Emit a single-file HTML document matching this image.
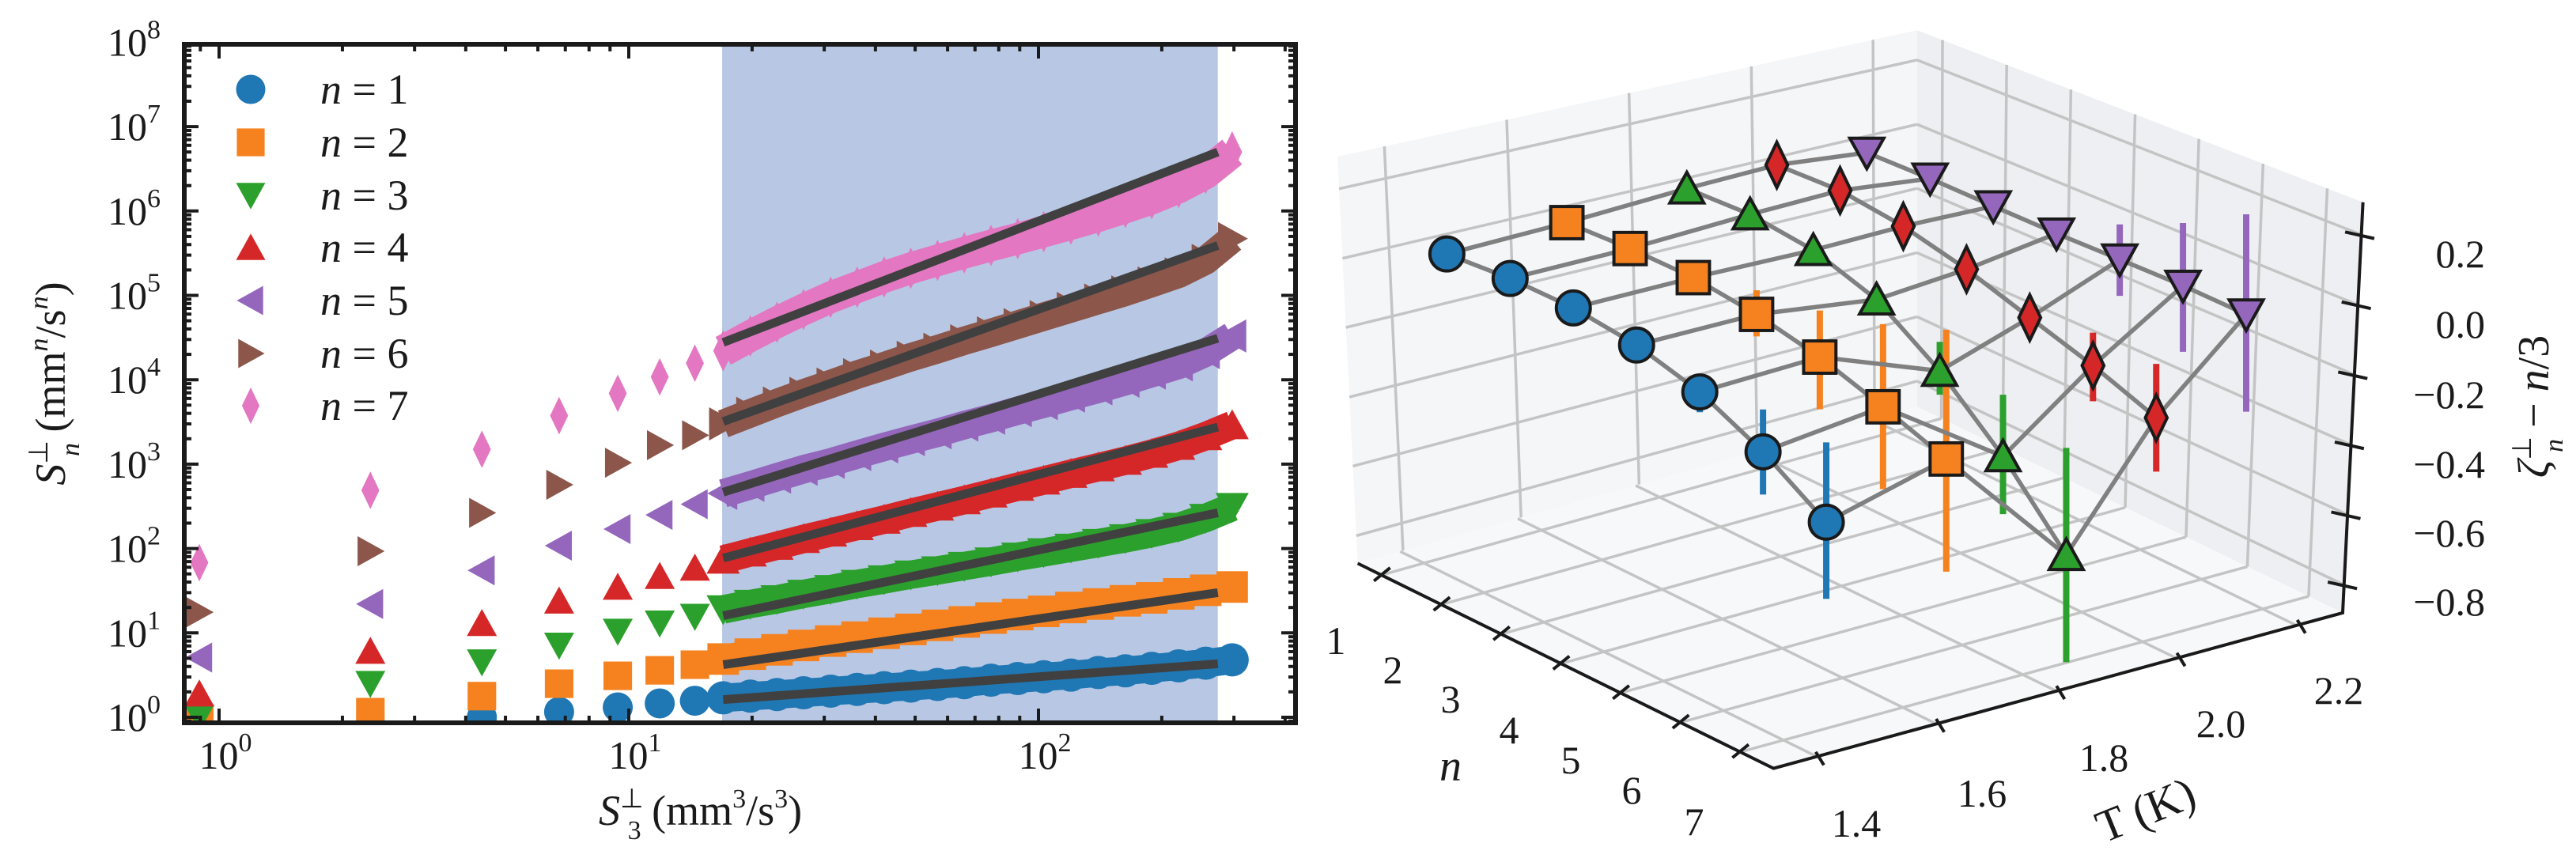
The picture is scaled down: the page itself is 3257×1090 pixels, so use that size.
<!DOCTYPE html>
<html><head><meta charset="utf-8"><style>
html,body{margin:0;padding:0;background:#fff;}
svg{display:block;font-family:"Liberation Serif",serif;}
</style></head><body>
<svg id="fig" xmlns="http://www.w3.org/2000/svg" width="3257" height="1090" viewBox="0 0 3257 1090">
<defs><clipPath id="clipL"><rect x="230" y="53" width="1411" height="864"/></clipPath></defs>
<g id="left"></g>
<g id="right"></g>
</svg>
<script>
// ---------- LEFT PANEL DATA ----------
const xVals = [0.895,2.34,4.38,6.76,9.4,11.9,14.5,17,19.8,23.0,26.7,31.1,36.1,42.0,48.8,56.7,65.9,76.6,89.0,103,120,140,163,189,220,256,297];
const s1 = [0.6,0.82,1.0,1.16,1.31,1.46,1.57,1.70,1.78,1.86,1.95,2.04,2.14,2.24,2.34,2.45,2.57,2.75,2.88,3.02,3.16,3.39,3.55,3.80,4.07,4.37,4.79];
const s2 = [0.95,1.15,1.78,2.5,3.1,3.6,4.2,4.9,5.6,6.3,7.1,8.0,8.9,9.9,11,12.3,13.5,15,16.5,18,20,22,24,26,29,32,35];
const s3 = [1.0,2.5,4.5,7.1,10.4,13,15.6,19,22,25,29,33,38,43,49,55,62,70,80,90,102,116,132,152,180,230,310];
const s4 = [1.9,6.1,13,24,35,47,59,74,90,108,130,155,185,220,265,315,375,450,540,640,770,920,1100,1330,1650,2150,2900];
const s5 = [5.1,22,55,108,170,250,335,450,560,700,870,1050,1300,1600,1950,2350,2900,3500,4300,5200,6400,7800,9600,12000,15000,21000,33000];
const s6 = [17.6,93,265,570,1040,1680,2200,3000,4000,5300,6900,8900,11500,14500,18500,23000,29000,36000,45000,56000,70000,88000,110000,140000,180000,260000,470000];
const s7 = [68,490,1500,3750,6900,10800,15700,22000,33000,48000,68000,95000,125000,165000,210000,260000,320000,390000,470000,570000,700000,870000,1100000,1400000,1900000,2800000,5000000];
const fitRange = [17, 274];
const fitStart = [1.62,4.2,16,77,465,3200,27700];
const fitEnd = [4.3,30,265,2750,31000,390000,5000000];
const shadeRange = [16.9, 274];
const yTickExp = [0,1,2,3,4,5,6,7,8];
const xTickExp = [0,1,2];
const legendLabels = ["1","2","3","4","5","6","7"];
const denseStart = 7;

// ---------- RIGHT PANEL DATA ----------
const temps = [1.45,1.65,1.85,2.0,2.15];
const nVals = [1,2,3,4,5,6,7];
const zBlue = [0,0.019,0.024,0.007,-0.038,-0.12,-0.232];
const zOrange = [-0.004,0.011,0.017,0.001,-0.032,-0.085,-0.145];
const zGreen = [0,0.015,0.002,-0.05,-0.165,-0.32,-0.513];
const zRed = [-0.003,0.013,0,-0.034,-0.083,-0.131,-0.191];
const zPurple = [-0.038,-0.023,-0.013,-0.002,0.013,0.027,0.034];
const errLoBlue = [null,null,null,null,-0.096,-0.242,-0.451];
const errHiBlue = [null,null,null,null,0.014,0.001,-0.004];
const errLoOrange = [null,null,null,-0.062,-0.181,-0.32,-0.467];
const errHiOrange = [null,null,null,0.07,0.101,0.151,0.224];
const errLoGreen = [null,null,null,null,-0.233,-0.485,-0.819];
const errHiGreen = [null,null,null,null,-0.082,-0.144,-0.207];
const errLoRed = [null,null,null,null,null,-0.233,-0.345];
const errHiRed = [null,null,null,null,null,-0.037,-0.037];
const errLoPurple = [null,null,null,null,-0.091,-0.162,-0.244];
const errHiPurple = [null,null,null,null,0.113,0.206,0.32];
const zTicks = [0.2,0.0,-0.2,-0.4,-0.6,-0.8];
const tTicks = [1.4,1.6,1.8,2.0,2.2];

const NS = "http://www.w3.org/2000/svg";
function mk(tag, attrs, parent){const e=document.createElementNS(NS,tag);for(const k in attrs)e.setAttribute(k,attrs[k]);parent.appendChild(e);return e;}
const colors = ["#1f77b4","#f5821f","#2ca02c","#d62728","#9467bd","#8c564b","#e377c2"];

// ======== LEFT PANEL ========
const L = document.getElementById('left');
const X = v => 277 + 518*Math.log10(v);
const Y = v => 907 - 106.7*Math.log10(v);

const shade = mk('rect',{x:X(shadeRange[0]),y:53,width:X(shadeRange[1])-X(shadeRange[0]),height:864,fill:'#b8c8e4'},L);



function marker(kind, cx, cy, s, fill, parent, stroke){
  let e; const h=s/2;
  const st = stroke ? {stroke:'#1a1a1a','stroke-width':4,'stroke-linejoin':'miter'} : {};
  if(kind==='circle') e=mk('circle',Object.assign({cx:cx,cy:cy,r:h,fill:fill},st),parent);
  else if(kind==='square') e=mk('rect',Object.assign({x:cx-h*0.95,y:cy-h*0.95,width:s*0.95,height:s*0.95,fill:fill},st),parent);
  else{
    let pts;
    if(kind==='tdown') pts=[[cx-h,cy-h*0.85],[cx+h,cy-h*0.85],[cx,cy+h*0.95]];
    else if(kind==='tup') pts=[[cx-h,cy+h*0.85],[cx+h,cy+h*0.85],[cx,cy-h*0.95]];
    else if(kind==='tleft') pts=[[cx+h*0.85,cy-h],[cx+h*0.85,cy+h],[cx-h*0.95,cy]];
    else if(kind==='tright') pts=[[cx-h*0.85,cy-h],[cx-h*0.85,cy+h],[cx+h*0.95,cy]];
    else if(kind==='diamond') pts=[[cx,cy-h*1.25],[cx+h*0.6,cy],[cx,cy+h*1.25],[cx-h*0.6,cy]];
    e=mk('polygon',Object.assign({points:pts.map(p=>p.join(',')).join(' '),fill:fill},st),parent);
  }
  return e;
}
const kinds = ['circle','square','tdown','tup','tleft','tright','diamond'];
const series = [s1,s2,s3,s4,s5,s6,s7];

const dataG = mk('g',{'clip-path':'url(#clipL)'},L);


series.forEach((arr,si)=>{
  const g = mk('g',{},dataG);
  
  
  const band = mk('polyline',{points:arr.slice(denseStart).map((v,i)=>X(xVals[i+denseStart])+','+Y(v)).join(' '),fill:'none',stroke:colors[si],'stroke-width':si===6?40:36,'stroke-linejoin':'round'},g);
  
  
  arr.forEach((v,i)=>{
    const m = marker(kinds[si], X(xVals[i]), Y(v), i>=denseStart?42:38, colors[si], g, false);
    
    
  });
});
series.forEach((arr,si)=>{
  const ln = mk('line',{x1:X(fitRange[0]),y1:Y(fitStart[si]),x2:X(fitRange[1]),y2:Y(fitEnd[si]),stroke:'#404040','stroke-width':11},dataG);
  
  
});

const frame = mk('rect',{x:233,y:56,width:1405,height:858,fill:'none',stroke:'#1a1a1a','stroke-width':6},L);


const ticksG = mk('g',{stroke:'#1a1a1a','stroke-width':4},L);


for(let d=-1; d<=2; d++){
  for(let m=1;m<=9;m++){
    const v=m*Math.pow(10,d); const x=X(v);
    if(x<236||x>1636) continue;
    const len = m===1?18:9;
    mk('line',{x1:x,y1:914,x2:x,y2:914-len},ticksG);
    mk('line',{x1:x,y1:56,x2:x,y2:56+len},ticksG);
  }
}
for(let d=-1; d<=8; d++){
  for(let m=1;m<=9;m++){
    const v=m*Math.pow(10,d); const y=Y(v);
    if(y<58||y>912) continue;
    const len = m===1?18:9;
    mk('line',{x1:233,y1:y,x2:233+len,y2:y},ticksG);
    mk('line',{x1:1638,y1:y,x2:1638-len,y2:y},ticksG);
  }
}
yTickExp.forEach(e=>{
  const t = mk('text',{x:203,y:Y(Math.pow(10,e))+17,'font-size':50,'text-anchor':'end',fill:'#1a1a1a'},L);
  
  
  t.innerHTML = '10<tspan dy="-22" font-size="34">'+e+'</tspan>';
});
xTickExp.forEach(e=>{
  const t = mk('text',{x:X(Math.pow(10,e))+8,y:972,'font-size':50,'text-anchor':'middle',fill:'#1a1a1a'},L);
  
  
  t.innerHTML = '10<tspan dy="-22" font-size="34">'+e+'</tspan>';
});
const xl = mk('text',{x:757,y:1043,'font-size':54,fill:'#1a1a1a'},L);


xl.innerHTML='<tspan font-style="italic">S</tspan><tspan dy="-22" font-size="34">⊥</tspan><tspan dx="-20" dy="40" font-size="34">3</tspan><tspan dy="-18"> (mm</tspan><tspan dy="-22" font-size="34">3</tspan><tspan dy="22">/s</tspan><tspan dy="-22" font-size="34">3</tspan><tspan dy="22">)</tspan>';
const yl = mk('text',{x:0,y:0,'font-size':54,fill:'#1a1a1a','text-anchor':'middle',transform:'translate(82,485) rotate(-90)'},L);


yl.innerHTML='<tspan font-style="italic">S</tspan><tspan dy="-22" font-size="34">⊥</tspan><tspan dx="-20" dy="40" font-size="34" font-style="italic">n</tspan><tspan dy="-18"> (mm</tspan><tspan dy="-22" font-size="34" font-style="italic">n</tspan><tspan dy="22">/s</tspan><tspan dy="-22" font-size="34" font-style="italic">n</tspan><tspan dy="22">)</tspan>';

const legY = [113,180,247,313,380,447,513];
const legG = mk('g',{},L);


legendLabels.forEach((lab,i)=>{
  const g = mk('g',{},legG);
  
  
  marker(kinds[i],317,legY[i],37,colors[i],g,false);
  const t=mk('text',{x:405,y:legY[i]+18,'font-size':54,fill:'#1a1a1a'},g);
  t.innerHTML='<tspan font-style="italic">n</tspan> = '+lab;
});

// ======== RIGHT PANEL ========
const R = document.getElementById('right');
const S = (x,y)=>[1650+x*1.025, y*0.695];
const proj = (T,n,z)=>S(138+(T-1.4)*740+(n-1)*78, 477-(T-1.4)*298+(n-1)*56.7-z*637);
const P = p=>S(p[0],p[1]);
const lerp=(a,b,t)=>[a[0]+(b[0]-a[0])*t,a[1]+(b[1]-a[1])*t];
function pane(TL,TR,BR,BL,fill,us,vs,name){
  const g=mk('g',{},R);
  
  
  mk('polygon',{points:[TL,TR,BR,BL].map(P).map(p=>p.join(',')).join(' '),fill:fill},g);
  us.forEach(u=>{const a=P(lerp(BL,BR,u)),b=P(lerp(TL,TR,u));mk('line',{x1:a[0],y1:a[1],x2:b[0],y2:b[1],stroke:'#c4c4c4','stroke-width':3.5},g);});
  vs.forEach(v=>{const a=P(lerp(BL,TL,v)),b=P(lerp(BR,TR,v));mk('line',{x1:a[0],y1:a[1],x2:b[0],y2:b[1],stroke:'#c4c4c4','stroke-width':3.5},g);});
}
const tU=[0.081,0.292,0.503,0.714,0.924], zV=[0.068,0.239,0.409,0.580,0.750,0.921], nU=[0.057,0.201,0.345,0.489,0.632,0.776,0.920];
pane([40,285],[755,55],[755,740],[65,1025],'#f5f6f8',tU,zV,'back-pane');
pane([755,55],[1305,368],[1280,1115],[755,740],'#eeeff2',nU,zV,'side-pane');
pane([755,740],[1280,1115],[578,1398],[65,1025],'#f7f8f9',nU,tU.map(u=>1-u),'floor-pane');

const axG=mk('g',{stroke:'#1a1a1a','stroke-width':4,fill:'none'},R);


const poly=pts=>mk('polyline',{points:pts.map(P).map(p=>p.join(',')).join(' ')},axG);
poly([[65,1025],[578,1398],[1280,1115],[1305,368]]);
nVals.forEach((n,i)=>{const a=[95+i*73.7,1045+i*53.6];poly([[a[0]-10,a[1]+12],[a[0]+10,a[1]-12]]);});
tTicks.forEach((t,i)=>{const a=[635+i*148.5,1380-i*60];poly([[a[0]-5,a[1]-12],[a[0]+5,a[1]+12]]);});
zTicks.forEach((z,i)=>{const y=428+i*127.4;const x=1303-(y-368)*0.0335;poly([[x-18,y-6],[x+18,y+6]]);});

const zs=[zBlue,zOrange,zGreen,zRed,zPurple];
const los=[errLoBlue,errLoOrange,errLoGreen,errLoRed,errLoPurple];
const his=[errHiBlue,errHiOrange,errHiGreen,errHiRed,errHiPurple];
const c3=["#1f77b4","#f5821f","#2ca02c","#d62728","#9467bd"];
const k3=['circle','square','tup','diamond','tdown'];
const errG=mk('g',{},R);


temps.forEach((T,ti)=>{nVals.forEach((n,ni)=>{
  if(los[ti][ni]===null) return;
  const a=proj(T,n,los[ti][ni]), b=proj(T,n,his[ti][ni]);
  const e=mk('line',{x1:a[0],y1:a[1],x2:b[0],y2:b[1],stroke:c3[ti],'stroke-width':8},errG);
  
  
});});
const lnG=mk('g',{stroke:'#808080','stroke-width':5.5,fill:'none'},R);


temps.forEach((T,ti)=>{
  const pl=mk('polyline',{points:nVals.map((n,ni)=>proj(T,n,zs[ti][ni]).join(',')).join(' ')},lnG);
  
  
});
nVals.forEach((n,ni)=>{
  const pl=mk('polyline',{points:temps.map((T,ti)=>proj(T,n,zs[ti][ni]).join(',')).join(' ')},lnG);
  
  
});
const mkG=mk('g',{},R);


temps.forEach((T,ti)=>{nVals.forEach((n,ni)=>{
  const p=proj(T,n,zs[ti][ni]);
  const sz = k3[ti]==='diamond'?46:43;
  const m=marker(k3[ti],p[0],p[1],sz,c3[ti],mkG,true);
  
  
});});

const lab=(txt,x,y,fs,anchor,name,rot)=>{const t=mk('text',{x:x,y:y,'font-size':fs,'text-anchor':anchor,fill:'#1a1a1a'},R);if(rot)t.setAttribute('transform','rotate('+rot+' '+x+' '+y+')');t.innerHTML=txt;return t;};
const nPos=[[1689,810],[1761,847],[1834,884],[1908,923],[1986,961],[2063,999],[2142,1039]];
nVals.forEach((n,i)=>lab(String(n),nPos[i][0],nPos[i][1]+17,50,'middle','n-tick-label'));
lab('<tspan font-style="italic">n</tspan>',1834,987,56,'middle','n-axis-title');
const tPos=[[2347,1058],[2506,1020],[2660,975],[2808,932],[2957,890]];
tTicks.forEach((t,i)=>lab(t.toFixed(1),tPos[i][0],tPos[i][1],50,'middle','T-tick-label'));
lab('T (K)',2720,1042,58,'middle','T-axis-title',-22);
zTicks.forEach((z,i)=>lab((z<0?'−':'')+Math.abs(z).toFixed(1),3142,[321,410,499,587,674,761][i]+17,50,'end','z-tick-label'));
lab('<tspan font-style="italic">ζ</tspan><tspan dy="-22" font-size="34">⊥</tspan><tspan dx="-20" dy="40" font-size="34" font-style="italic">n</tspan><tspan dy="-18"> − </tspan><tspan font-style="italic">n</tspan>/3',3222,514,56,'middle','z-axis-title',-90);
</script>
</body></html>
